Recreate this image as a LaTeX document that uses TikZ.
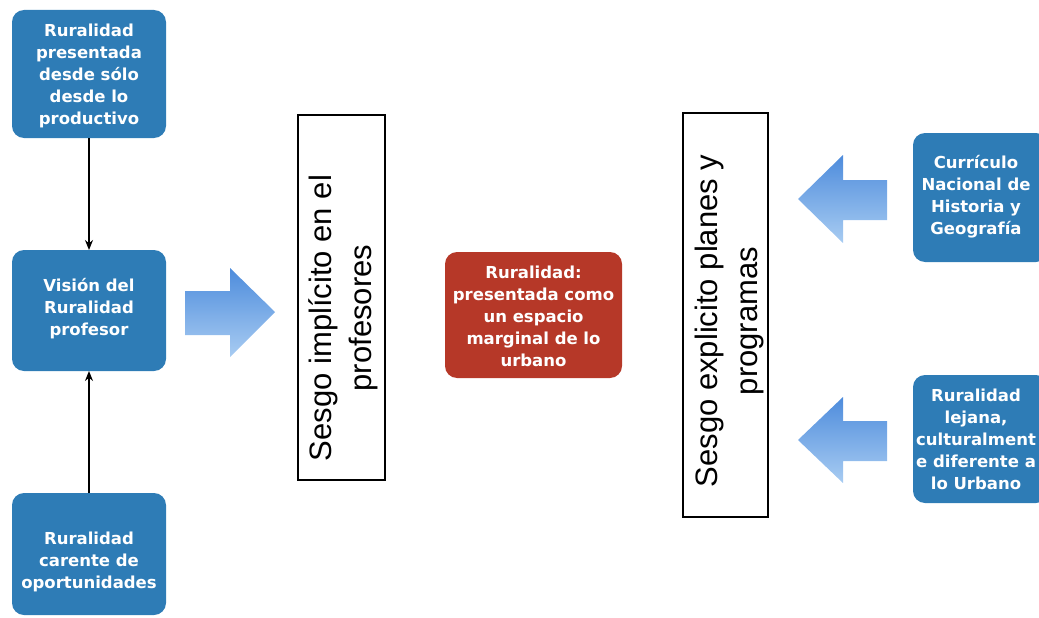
\documentclass[tikz,border=0pt]{standalone}
\usepackage{fontspec}
\newfontfamily\boxfont{DejaVu Sans}
\newfontfamily\helv{Liberation Sans}
\usetikzlibrary{arrows.meta}
\definecolor{boxblue}{RGB}{46,124,182}
\definecolor{boxred}{RGB}{182,56,40}
\definecolor{arrtop}{RGB}{78,140,220}
\definecolor{arrbot}{RGB}{168,204,242}
\tikzset{
  bluebox/.style={fill=boxblue, draw=none, rounded corners=12pt},
  redbox/.style={fill=boxred, draw=none, rounded corners=12pt},
  boxtext/.style={text=white, font=\boxfont\bfseries\fontsize{16.5}{22}\selectfont, align=center, inner sep=0pt},
  framebox/.style={draw=black, line width=2.6pt, fill=white},
  vtext/.style={rotate=90, font=\helv\fontsize{31}{40}\selectfont, align=center, inner sep=0pt},
  blockarrow/.style={top color=arrtop, bottom color=arrbot, draw=none},
  conn/.style={draw=black, line width=1.4pt, -{Stealth[length=10pt,width=8pt]}}
}
\begin{document}
\begin{tikzpicture}[x=1pt,y=-1pt]
\useasboundingbox (0,0) rectangle (1039,618);
\clip (0,0) rectangle (1039,618);

% left boxes
\path[bluebox] (12,10) rectangle (166,138);
\node[boxtext] (b1) at (89,76) {Ruralidad\\presentada\\desde sólo\\desde lo\\productivo};
\coordinate (b1s) at (89,138);

\path[bluebox] (12,250) rectangle (166,371);
\node[boxtext] (b2) at (89,309) {Visión del\\Ruralidad\\profesor};
\coordinate (b2n) at (89,250);
\coordinate (b2s) at (89,371);

\path[bluebox] (12,493) rectangle (166,615);
\node[boxtext] (b3) at (89,562) {Ruralidad\\carente de\\oportunidades};
\coordinate (b3n) at (89,493);

\draw[conn] (b1s) -- (b2n);
\draw[conn] (b3n) -- (b2s);

% right-pointing block arrow
\path[blockarrow] (185,291) -- (230,291) -- (230,268) -- (275,312) -- (230,357) -- (230,335) -- (185,335) -- cycle;

% framed rotated boxes
\path[framebox] (298,115) rectangle (385,480);
\node[vtext] (r1) at (343,318) {Sesgo implícito en el\\profesores};

\path[framebox] (683,113) rectangle (768,517);
\node[vtext] (r2) at (729,321) {Sesgo explicito planes y\\programas};

% red box
\path[redbox] (445,252) rectangle (622,378);
\node[boxtext] (red) at (533.5,316) {Ruralidad:\\presentada como\\un espacio\\marginal de lo\\urbano};

% left-pointing block arrows
\path[blockarrow] (887,180) -- (843,180) -- (843,155) -- (798,199) -- (843,243) -- (843,220) -- (887,220) -- cycle;
\path[blockarrow] (887,421) -- (843,421) -- (843,397) -- (798,440) -- (843,483) -- (843,461) -- (887,461) -- cycle;

% right boxes
\path[bluebox] (913,133) rectangle (1048,262);
\node[boxtext] (c1) at (976,197) {Currículo\\Nacional de\\Historia y\\Geografía};

\path[bluebox] (913,375) rectangle (1048,503);
\node[boxtext] (c2) at (976,439) {Ruralidad\\lejana,\\culturalment\\e diferente a\\lo Urbano};
\end{tikzpicture}
\end{document}
